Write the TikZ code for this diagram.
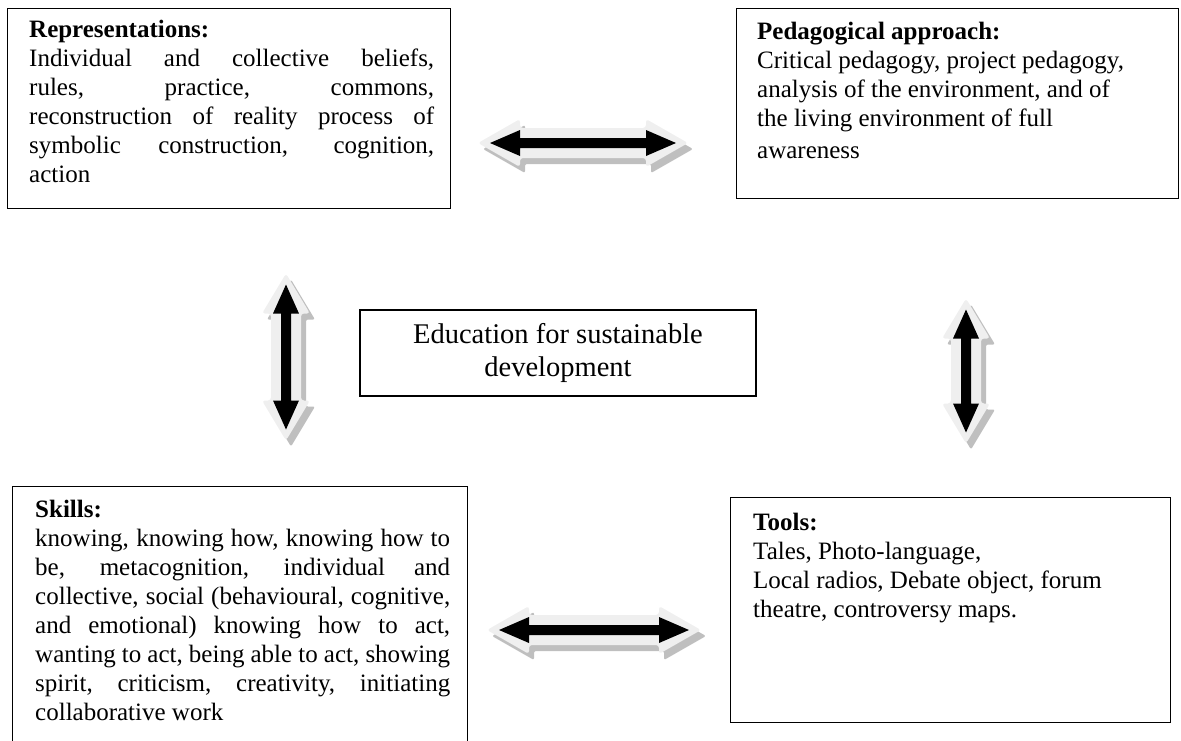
\documentclass[tikz,border=0pt]{standalone}
\usepackage{fontspec}
\setmainfont{Liberation Serif}
\usetikzlibrary{positioning,calc}
\definecolor{arrowlight}{HTML}{EFEFEF}
\definecolor{arrowshade}{HTML}{BFBFBF}

\tikzset{
  box/.style={draw=black, line width=1.3pt, anchor=north west, inner sep=0pt},
  txt/.style={anchor=north west, inner sep=0pt, font=\fontsize{25}{29}\selectfont},
  pics/harrow/.style={code={
    \pgfmathsetmacro\arrhalf{#1/2}
    \pgfmathsetmacro\arrneck{\arrhalf-42}
    \pgfmathsetmacro\arrtip{\arrhalf-12}
    \fill[arrowshade, rounded corners=2pt, shift={(5,6)}] (-\arrhalf,0) -- (-\arrneck,-24) -- (-\arrneck,-15) -- (\arrneck,-15) -- (\arrneck,-24) -- (\arrhalf,0) -- (\arrneck,24) -- (\arrneck,15) -- (-\arrneck,15) -- (-\arrneck,24) -- cycle;
    \fill[arrowlight, rounded corners=3pt] (-\arrhalf,0) -- (-\arrneck,-24) -- (-\arrneck,-15) -- (\arrneck,-15) -- (\arrneck,-24) -- (\arrhalf,0) -- (\arrneck,24) -- (\arrneck,15) -- (-\arrneck,15) -- (-\arrneck,24) -- cycle;
    \fill[black] (-\arrtip,0) -- (-\arrneck,-13) -- (-\arrneck,-5) -- (\arrneck,-5) -- (\arrneck,-13) -- (\arrtip,0) -- (\arrneck,13) -- (\arrneck,5) -- (-\arrneck,5) -- (-\arrneck,13) -- cycle;
  }},
  pics/varrow/.style={code={
    \pgfmathsetmacro\arrhalf{#1/2}
    \pgfmathsetmacro\arrneck{\arrhalf-40}
    \pgfmathsetmacro\arrtip{\arrhalf-11}
    \fill[arrowshade, rounded corners=2pt, shift={(5,6)}] (0,-\arrhalf) -- (-24,-\arrneck) -- (-15,-\arrneck) -- (-15,\arrneck) -- (-24,\arrneck) -- (0,\arrhalf) -- (24,\arrneck) -- (15,\arrneck) -- (15,-\arrneck) -- (24,-\arrneck) -- cycle;
    \fill[arrowlight, rounded corners=3pt] (0,-\arrhalf) -- (-24,-\arrneck) -- (-15,-\arrneck) -- (-15,\arrneck) -- (-24,\arrneck) -- (0,\arrhalf) -- (24,\arrneck) -- (15,\arrneck) -- (15,-\arrneck) -- (24,-\arrneck) -- cycle;
    \fill[black] (0,-\arrtip) -- (-13,-\arrneck) -- (-5,-\arrneck) -- (-5,\arrneck) -- (-13,\arrneck) -- (0,\arrtip) -- (13,\arrneck) -- (5,\arrneck) -- (5,-\arrneck) -- (13,-\arrneck) -- cycle;
  }},
}

\begin{document}
\begin{tikzpicture}[x=1pt, y=-1pt]
    \useasboundingbox (0,0) rectangle (1181,740);
    \clip (0,0) rectangle (1181,740);
    % boxes
    \node[box, minimum width=443pt, minimum height=200pt] (rep) at (7,8) {};
    \node[box, minimum width=442pt, minimum height=190pt] (ped) at (736,8) {};
    \node[box, minimum width=455pt, minimum height=290pt] (skills) at (12,486) {};
    \node[box, minimum width=440pt, minimum height=225pt] (tools) at (730,497) {};
    \node[draw=black, line width=1.3pt, minimum width=396pt, minimum height=86pt, align=center,
          font=\fontsize{28.5}{33}\selectfont] (esd) at (558,353) {Education for sustainable\\development};
    % texts
    \node[txt, text width=405pt, align=justify] (reptext) at ([xshift=22pt,yshift=-12pt]rep.north west)
        {\textbf{Representations:}\\
         Individual and collective beliefs,\linebreak
         rules, practice, commons,\linebreak
         reconstruction of reality process of\linebreak
         symbolic construction, cognition,\linebreak
         action};
    \node[txt, align=left] (pedtext) at ([xshift=21pt,yshift=-14pt]ped.north west)
        {\textbf{Pedagogical approach:}\\
         Critical pedagogy, project pedagogy,\\
         analysis of the environment, and of\\
         the living environment of full\\[3pt]
         awareness};
    \node[txt, text width=415pt, align=justify] (skillstext) at ([xshift=23pt,yshift=-14pt]skills.north west)
        {\textbf{Skills:}\\
         knowing, knowing how, knowing how to\linebreak
         be, metacognition, individual and\linebreak
         collective, social (behavioural, cognitive,\linebreak
         and emotional) knowing how to act,\linebreak
         wanting to act, being able to act, showing\linebreak
         spirit, criticism, creativity, initiating\linebreak
         collaborative work};
    \node[txt, align=left] (toolstext) at ([xshift=23pt,yshift=-16pt]tools.north west)
        {\textbf{Tools:}\\
         Tales, Photo-language,\\
         Local radios, Debate object, forum\\
         theatre, controversy maps.};
    % double arrows
    \pic (arrtop) at (583,143) {harrow=210};
    \pic (arrbot) at (594,630) {harrow=214};
    \pic (arrleft) at (286,357) {varrow=167};
    \pic (arrright) at (966,371) {varrow=145};
\end{tikzpicture}
\end{document}
